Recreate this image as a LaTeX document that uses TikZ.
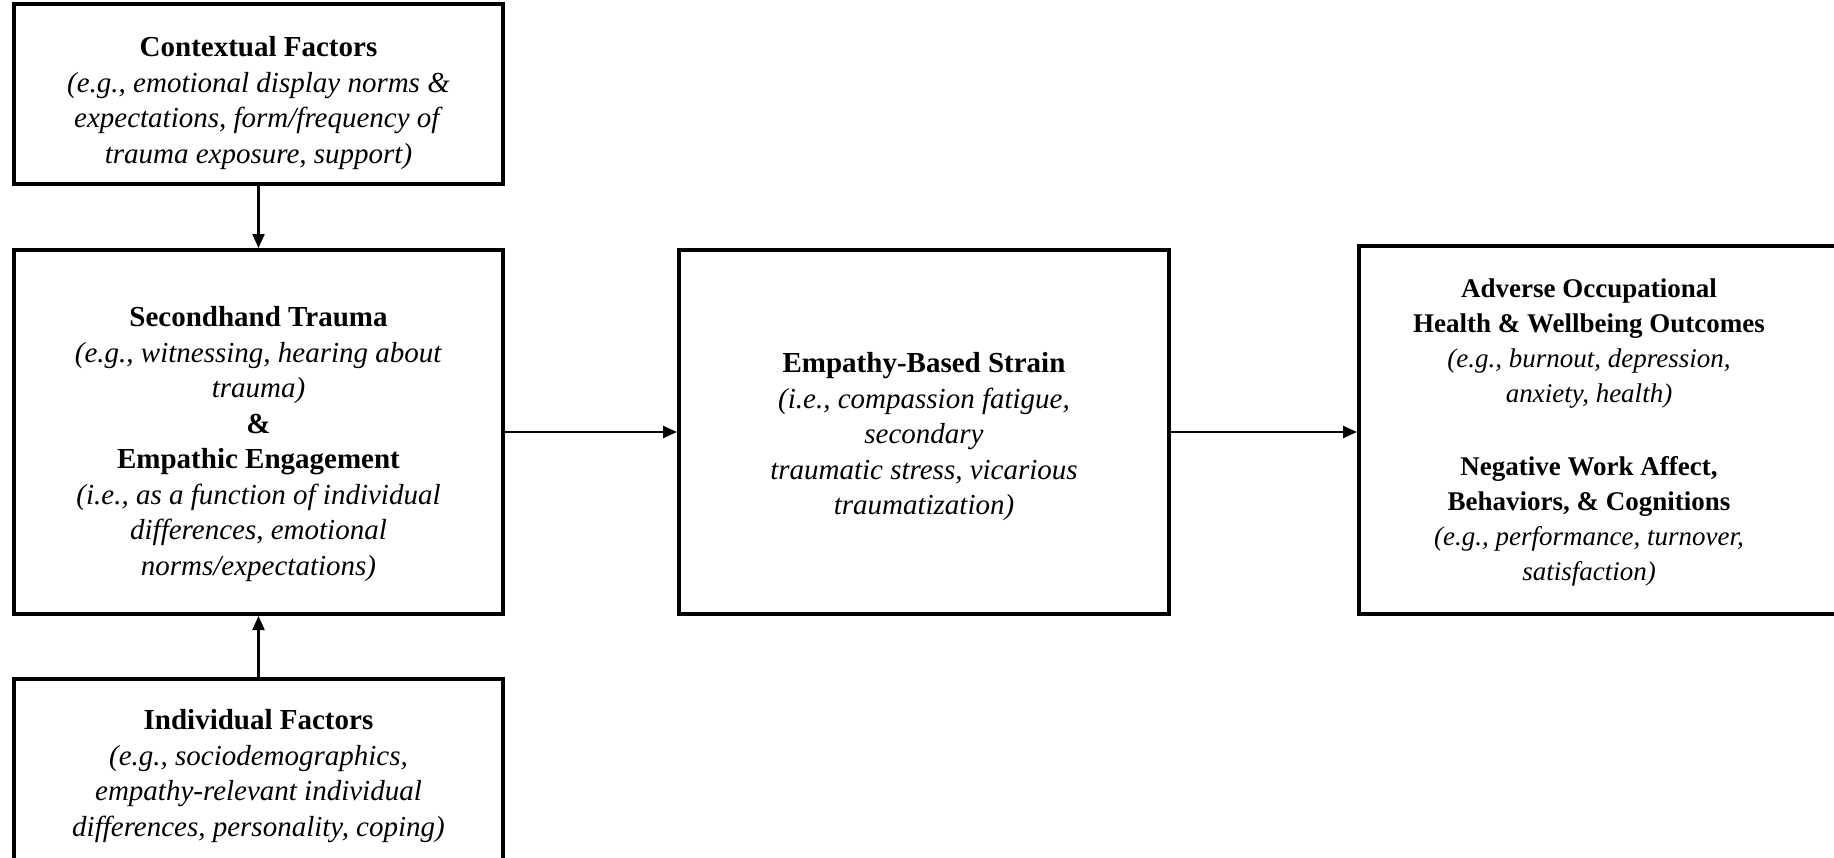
\documentclass[tikz,border=0pt]{standalone}
\usepackage{fontspec}
\setmainfont{Liberation Serif}
\usetikzlibrary{arrows.meta}
\begin{document}
\begin{tikzpicture}[x=1pt,y=-1pt,
  boxstyle/.style={draw=black, line width=4pt, inner sep=0pt},
  txtstyle/.style={inner sep=0pt, align=center, font=\fontsize{29}{35.5}\selectfont},
  txtsmall/.style={inner sep=0pt, align=center, font=\fontsize{27}{35}\selectfont},
  conn/.style={line width=2.2pt, -{Triangle[length=14pt,width=12pt]}}]
\useasboundingbox[fill=white] (0,0) rectangle (1834,857);

\node[boxstyle, minimum width=489pt, minimum height=180pt] (ctx) at (258.5,94) {};
\node[txtstyle] (ctxtxt) at ([yshift=-9pt]ctx.center)
  {\textbf{Contextual Factors}\\
   \textit{(e.g., emotional display norms \&}\\
   \textit{expectations, form/frequency of}\\
   \textit{trauma exposure, support)}};

\node[boxstyle, minimum width=489pt, minimum height=364pt] (sec) at (258.5,432) {};
\node[txtstyle] (sectxt) at ([yshift=-12pt]sec.center)
  {\textbf{Secondhand Trauma}\\
   \textit{(e.g., witnessing, hearing about}\\
   \textit{trauma)}\\
   \textbf{\&}\\
   \textbf{Empathic Engagement}\\
   \textit{(i.e., as a function of individual}\\
   \textit{differences, emotional}\\
   \textit{norms/expectations)}};

\node[boxstyle, minimum width=489pt, minimum height=188pt] (ind) at (258.5,773) {};
\node[txtstyle] (indtxt) at ([yshift=-3pt]ind.center)
  {\textbf{Individual Factors}\\
   \textit{(e.g., sociodemographics,}\\
   \textit{empathy-relevant individual}\\
   \textit{differences, personality, coping)}};

\node[boxstyle, minimum width=490pt, minimum height=364pt] (emp) at (924,432) {};
\node[txtstyle] (emptxt) at ([yshift=-5pt]emp.center)
  {\textbf{Empathy-Based Strain}\\
   \textit{(i.e., compassion fatigue,}\\
   \textit{secondary}\\
   \textit{traumatic stress, vicarious}\\
   \textit{traumatization)}};

\node[boxstyle, minimum width=560pt, minimum height=368pt] (out) at (1639,430) {};
\node[txtsmall] (outtxt) at (1589,432)
  {\textbf{Adverse Occupational}\\
   \textbf{Health \& Wellbeing Outcomes}\\
   \textit{(e.g., burnout, depression,}\\
   \textit{anxiety, health)}\\[38pt]
   \textbf{Negative Work Affect,}\\
   \textbf{Behaviors, \& Cognitions}\\
   \textit{(e.g., performance, turnover,}\\
   \textit{satisfaction)}};

\draw[conn] (ctx.south) -- (sec.north);
\draw[conn] (ind.north) -- (sec.south);
\draw[conn] (sec.east) -- (emp.west);
\draw[conn] (emp.east) -- (emp.east -| out.west);
\end{tikzpicture}
\end{document}
